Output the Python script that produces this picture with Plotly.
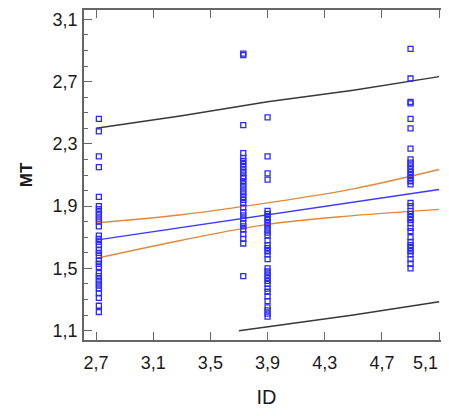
import plotly.graph_objects as go

# Observed data (ID vs MT)
id_levels = [2.72, 3.73, 3.9, 4.9]
mt_id1 = [2.46, 2.38, 2.22, 2.15, 1.96, 1.90, 1.88, 1.86, 1.84, 1.82, 1.80, 1.77, 1.71, 1.69,
          1.67, 1.65, 1.62, 1.60, 1.58, 1.55, 1.53, 1.51, 1.47, 1.45, 1.43, 1.41, 1.39, 1.37,
          1.34, 1.31, 1.26, 1.22]
mt_id2 = [2.88, 2.87, 2.42, 2.24, 2.21, 2.19, 2.17, 2.15, 2.13, 2.11, 2.09, 2.08, 2.06, 2.04,
          2.02, 2.00, 1.98, 1.96, 1.94, 1.92, 1.89, 1.86, 1.84, 1.82, 1.79, 1.77, 1.75, 1.72,
          1.69, 1.66, 1.45]
mt_id3 = [2.47, 2.22, 2.11, 2.07, 1.87, 1.85, 1.83, 1.81, 1.79, 1.77, 1.75, 1.73, 1.71, 1.68,
          1.65, 1.63, 1.61, 1.59, 1.56, 1.50, 1.48, 1.46, 1.44, 1.42, 1.40, 1.37, 1.35, 1.32,
          1.29, 1.25, 1.23, 1.21, 1.19]
mt_id4 = [2.91, 2.72, 2.57, 2.56, 2.46, 2.40, 2.27, 2.20, 2.18, 2.16, 2.14, 2.12, 2.10, 2.08,
          2.06, 2.04, 1.92, 1.90, 1.87, 1.85, 1.83, 1.81, 1.79, 1.76, 1.74, 1.70, 1.67, 1.65,
          1.63, 1.61, 1.59, 1.56, 1.53, 1.50]

# Fitted line and bands
fit_x = [2.7, 5.1]
fit_y = [1.682, 2.007]
band_x = [2.7, 3.3, 3.9, 4.5, 5.1]
conf_upper = [1.793, 1.845, 1.921, 2.011, 2.135]
conf_lower = [1.564, 1.681, 1.783, 1.839, 1.879]
pred_upper = [2.40, 2.48, 2.57, 2.645, 2.732]
pred_lower_x = [3.7, 3.9, 4.5, 5.1]
pred_lower = [1.10, 1.125, 1.20, 1.286]

x_ticks = [2.7, 3.1, 3.5, 3.9, 4.3, 4.7, 5.1]
y_ticks = [1.1, 1.5, 1.9, 2.3, 2.7, 3.1]

def fmt(v):
    return f"{v:.1f}".replace(".", ",")

pts_x, pts_y = [], []
for xv, ys in zip(id_levels, [mt_id1, mt_id2, mt_id3, mt_id4]):
    pts_x += [xv] * len(ys)
    pts_y += ys

fig = go.Figure()
fig.add_trace(go.Scatter(x=band_x, y=pred_upper, mode="lines",
                         line=dict(color="#383838", width=1.5), hoverinfo="skip"))
fig.add_trace(go.Scatter(x=pred_lower_x, y=pred_lower, mode="lines",
                         line=dict(color="#383838", width=1.5), hoverinfo="skip"))
fig.add_trace(go.Scatter(x=band_x, y=conf_upper, mode="lines", line_shape="spline",
                         line=dict(color="#e0893a", width=1.4)))
fig.add_trace(go.Scatter(x=band_x, y=conf_lower, mode="lines", line_shape="spline",
                         line=dict(color="#e0893a", width=1.4)))
fig.add_trace(go.Scatter(x=fit_x, y=fit_y, mode="lines",
                         line=dict(color="#3a3aff", width=1.4)))
fig.add_trace(go.Scatter(x=pts_x, y=pts_y, mode="markers",
                         marker=dict(symbol="square-open", size=5, color="#2a2aff",
                                     line=dict(width=1.3, color="#2a2aff"))))

tick_font = dict(family="Liberation Sans, Arial", size=18, color="#1a1a1a")
axis_common = dict(showgrid=False, zeroline=False, showline=True, linecolor="#666666",
                   linewidth=1.5, ticks="inside", tickcolor="#666666", tickwidth=1.3,
                   ticklen=8, mirror="allticks", ticklabeloverflow="allow", automargin=False,
                   tickfont=tick_font)

# last x tick label sits at the right edge; draw it as text anchored to its tick
x_text = [fmt(v) for v in x_ticks[:-1]] + [""]
fig.add_annotation(x=x_ticks[-1], xref="x", y=0, yref="paper", text=fmt(x_ticks[-1]),
                   showarrow=False, xanchor="right", yanchor="top", xshift=1, yshift=-11,
                   font=tick_font)

fig.update_layout(
    width=441, height=400,
    margin=dict(l=76, r=0, t=2, b=68, autoexpand=False),
    paper_bgcolor="white", plot_bgcolor="white",
    showlegend=False,
    separators=", ",
    xaxis=dict(range=[2.616, 5.169], tickvals=x_ticks, ticktext=x_text,
               ticklabelstandoff=6,
               title=dict(text="ID", font=dict(family="Liberation Sans, Arial", size=20, color="#1a1a1a"),
                          standoff=28),
               **axis_common),
    yaxis=dict(range=[1.04, 3.16], tickvals=y_ticks, ticktext=[fmt(v) for v in y_ticks],
               ticklabelstandoff=1,
               minor=dict(ticks="inside", dtick=0.1, tick0=1.1, ticklen=4, tickcolor="#666666", tickwidth=1.2),
               title=dict(text="<b>MT</b>", font=dict(family="Liberation Sans, Arial", size=17, color="#1a1a1a"),
                          standoff=16),
               **axis_common),
)

fig.write_html("out.html")
